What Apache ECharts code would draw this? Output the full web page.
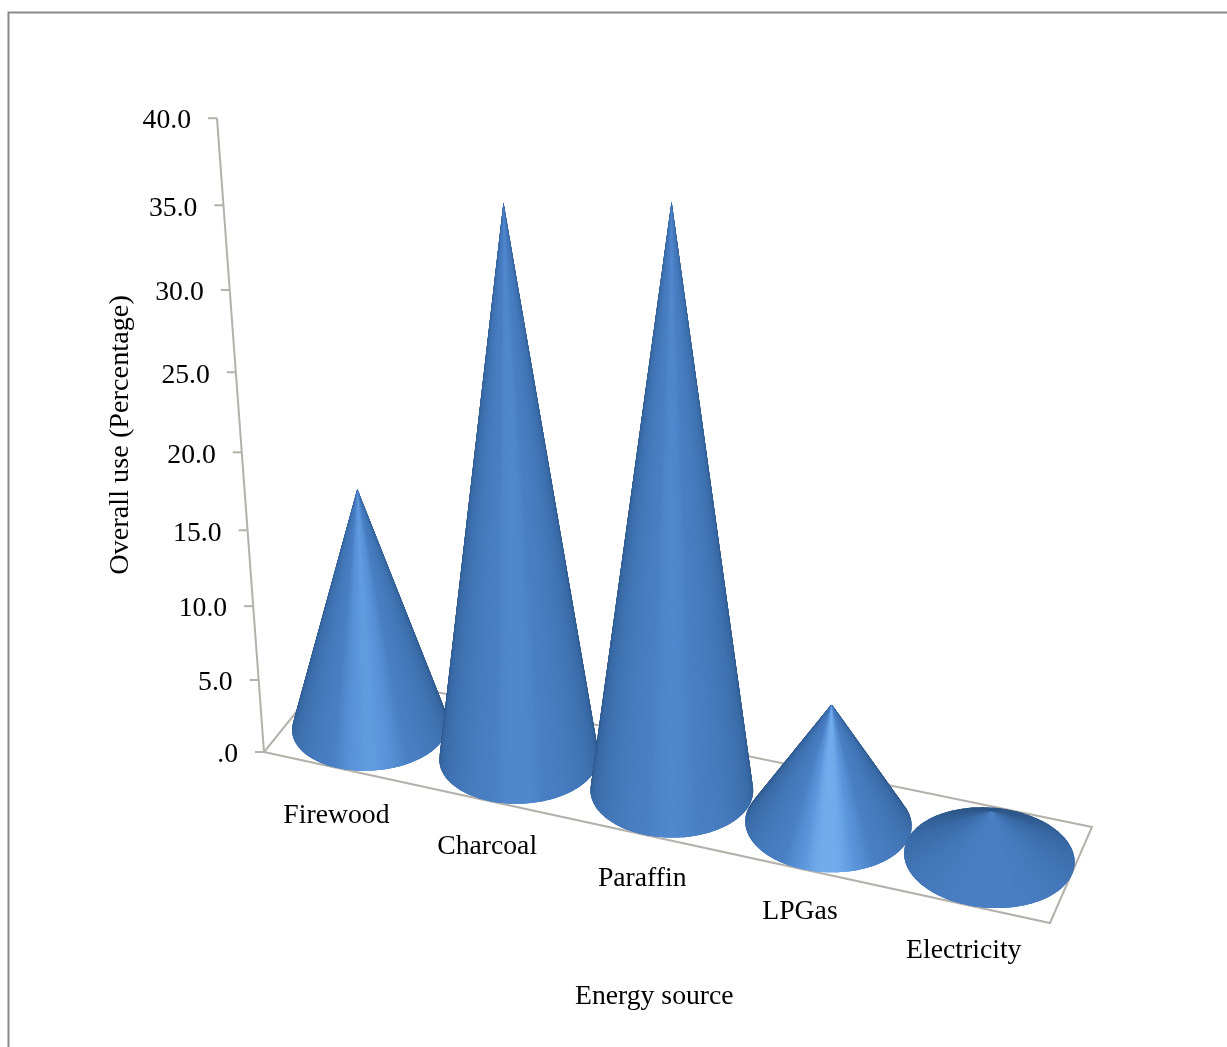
<!DOCTYPE html>
<html><head><meta charset="utf-8">
<style>html,body{margin:0;padding:0;background:#fff}#c{width:1227px;height:1047px}</style>
<script src="https://cdn.jsdelivr.net/npm/echarts@6/dist/echarts.min.js"></script>
</head><body><div id="c"></div>
<script>
// ---- data ----
const categories = ['Firewood', 'Charcoal', 'Paraffin', 'LPGas', 'Electricity'];
const overallUse = [16.05, 35.2, 36.65, 7.9, 3.05];
const yTicks = [0, 5, 10, 15, 20, 25, 30, 35, 40];
const yTickLabels = ['.0', '5.0', '10.0', '15.0', '20.0', '25.0', '30.0', '35.0', '40.0'];
const xTitle = 'Energy source';
const yTitle = 'Overall use (Percentage)';

// ---- perspective layout (floor corners on screen, how the vertical axis recedes) ----
const W = 1227, H = 1047, Y_MAX = 40;
const floor = [[264, 752], [1050, 923], [1092, 827], [330, 670]];
const VERT = {x: -1.735, y: -16.15, w: -0.00258};
const BASE_RU = 0.495, BASE_RD = 0.5, U_WARP = 0.028;
const FONT = '"Liberation Serif","Times New Roman",serif', FS = 27.7;
const LABEL_NUDGE = [[0, 48], [2, 47], [3, 45], [1, 43], [-1, 46]];

const P = (() => {
  const [[x0, y0], [x1, y1], [x2, y2], [x3, y3]] = floor;
  const dx1 = x1 - x2, dx2 = x3 - x2, sx = x0 - x1 + x2 - x3;
  const dy1 = y1 - y2, dy2 = y3 - y2, sy = y0 - y1 + y2 - y3;
  const den = dx1 * dy2 - dx2 * dy1;
  const g = (sx * dy2 - dx2 * sy) / den, h = (dx1 * sy - sx * dy1) / den;
  return {a: x1 - x0 + g * x1, b: x3 - x0 + h * x3, c: x0, d: y1 - y0 + g * y1, e: y3 - y0 + h * y3, f: y0, g, h};
})();
// u: position along the category axis (0..5), d: depth (0 front..1 back), v: axis value
function project(u, d, v) {
  const s = u / categories.length;
  const w = P.g * s + P.h * d + 1 + VERT.w * v;
  return [(P.a * s + P.b * d + P.c + VERT.x * v) / w, (P.d * s + P.e * d + P.f + VERT.y * v) / w];
}
// read the library's scales back into axis units
const toU = (api, val) => api.coord([val, 0])[0] / W * categories.length;
const toV = (api, val) => (H - api.coord([0, val])[1]) / H * Y_MAX;

const stops = [[0, [44, 84, 134]], [0.3, [57, 106, 166]], [0.88, [74, 127, 196]], [0.96, [92, 150, 220]], [1, [128, 186, 247]]];
function shade(x) {
  x = Math.max(0, Math.min(1, x));
  for (let i = 1; i < stops.length; i++) {
    if (x <= stops[i][0]) {
      const [a, ca] = stops[i - 1], [b, cb] = stops[i], k = (x - a) / (b - a);
      return 'rgb(' + ca.map((c, j) => Math.round(c + (cb[j] - c) * k)).join(',') + ')';
    }
  }
  return 'rgb(128,186,247)';
}

function renderCone(params, api) {
  const u = toU(api, api.value(0)), val = toV(api, api.value(1));
  const u0 = u + U_WARP * Math.sin(Math.PI * u / categories.length);
  const apex = project(u0, 0.5, val);
  const base = project(u0, 0.5, 0);
  const hUnits = Math.hypot(apex[0] - base[0], apex[1] - base[1]) / 157, R = 0.5;
  const n = Math.hypot(hUnits, R), sH = hUnits / n, sZ = R / n;
  const N = 180, dt = 2 * Math.PI / N, facets = [];
  const rim = t => project(u0 + BASE_RU * Math.cos(t), 0.5 + BASE_RD * Math.sin(t), 0);
  let L = [Infinity, 0], Rt = [-Infinity, 0];
  for (let i = 0; i < N; i++) { const p = rim(i * dt); if (p[0] < L[0]) L = p; if (p[0] > Rt[0]) Rt = p; }
  const cx = (L[0] + Rt[0]) / 2, half = (Rt[0] - L[0]) / 2;
  for (let i = 0; i < N; i++) {
    const pm = rim((i + 0.5) * dt);
    const xr = Math.min(1, Math.abs(pm[0] - cx) / half);
    const chordY = L[1] + (Rt[1] - L[1]) * (pm[0] - L[0]) / (Rt[0] - L[0]);
    const facing = Math.sqrt(1 - xr * xr) * (pm[1] > chordY ? 1 : -1);
    const lit = 0.5 * sZ + 0.85 * sH * facing;
    const pts = [apex];
    for (let k = -1; k <= 2; k++) pts.push(rim(i * dt + k * dt));
    facets.push({order: facing, pts, c: shade(lit)});
  }
  facets.sort((a, b) => a.order - b.order);
  return {
    type: 'group',
    children: facets.map(f => ({type: 'polygon', shape: {points: f.pts}, style: {fill: f.c}}))
  };
}

const lineStyle = {stroke: '#b4b0aa', lineWidth: 2};
function renderFloor(params, api) {
  const n = categories.length;
  const c = [project(0, 0, 0), project(n, 0, 0), project(n, 1, 0), project(0, 1, 0)];
  return {type: 'polygon', shape: {points: c}, style: {fill: 'none', stroke: '#b4b0aa', lineWidth: 2}};
}
function renderTick(params, api) {
  const v = toV(api, api.value(1));
  const p = project(0, 0, v);
  const children = [
    {type: 'line', shape: {x1: p[0] - 9, y1: p[1], x2: p[0], y2: p[1]}, style: lineStyle},
    {type: 'text', style: {text: yTickLabels[params.dataIndex], x: p[0] - 26, y: p[1] + 3, align: 'right', verticalAlign: 'middle',
      font: FS + 'px ' + FONT, fill: '#000'}}
  ];
  if (params.dataIndex > 0) {
    const q = project(0, 0, toV(api, yTicks[params.dataIndex - 1]));
    children.unshift({type: 'line', shape: {x1: q[0], y1: q[1], x2: p[0], y2: p[1]}, style: lineStyle});
  }
  return {type: 'group', children};
}
function renderCatLabel(params, api) {
  const i = api.value(0), u0 = toU(api, i);
  const p = project(u0, 0, 0), o = LABEL_NUDGE[i];
  return {type: 'text', style: {text: categories[i], x: p[0] + o[0], y: p[1] + o[1], align: 'center', verticalAlign: 'middle',
    font: FS + 'px ' + FONT, fill: '#000'}};
}

const chart = echarts.init(document.getElementById('c'), null, {renderer: 'canvas', width: W, height: H});
chart.setOption({
  animation: false,
  backgroundColor: '#fff',
  grid: {left: 0, right: 0, top: 0, bottom: 0, containLabel: false},
  xAxis: {type: 'category', data: categories, show: false, boundaryGap: true},
  yAxis: {type: 'value', min: 0, max: Y_MAX, interval: 5, show: false},
  tooltip: {show: false},
  graphic: [
    {type: 'polyline', shape: {points: [[8.5, H], [8.5, 12.5], [W, 12.5]]}, style: {fill: 'none', stroke: '#8a8a8a', lineWidth: 2}, silent: true},
    {type: 'text', left: 575, top: 983, style: {text: xTitle, font: FS + 'px ' + FONT, fill: '#000'}, silent: true},
    {type: 'text', x: 121, y: 435, rotation: Math.PI / 2, style: {text: yTitle, align: 'center', verticalAlign: 'middle', font: '28.3px ' + FONT, fill: '#000'}, silent: true}
  ],
  series: [
    {type: 'custom', clip: false, silent: true, renderItem: renderFloor, data: [[0, 0]], encode: {x: 0, y: 1}, z: 1},
    {type: 'custom', clip: false, silent: true, renderItem: renderTick, data: yTicks.map(v => [0, v]), encode: {x: 0, y: 1}, z: 2},
    {type: 'custom', clip: false, silent: true, renderItem: renderCatLabel, data: categories.map((c, i) => [i, 0]), encode: {x: 0, y: 1}, z: 2},
    {type: 'custom', clip: false, silent: true, name: 'Overall use', renderItem: renderCone, data: overallUse.map((v, i) => [i, v]), encode: {x: 0, y: 1}, z: 3}
  ]
});
</script></body></html>
